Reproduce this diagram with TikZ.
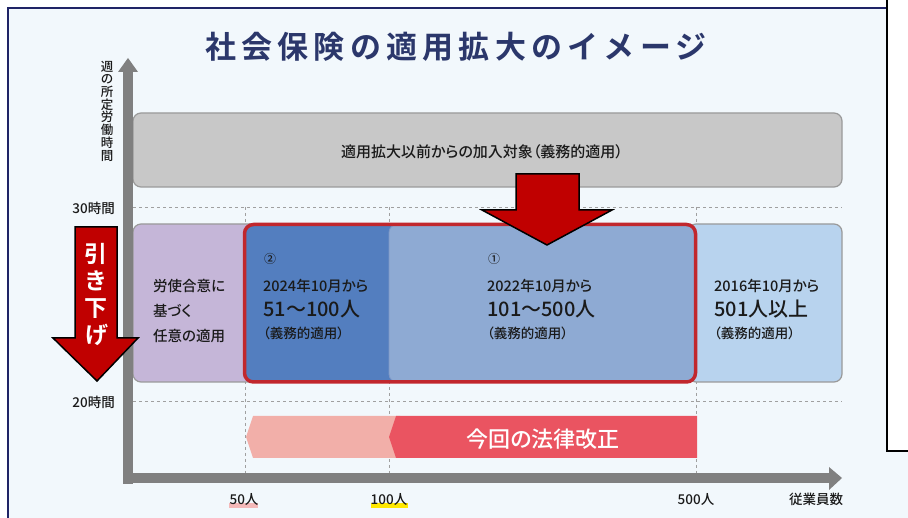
\documentclass[tikz,border=0pt]{standalone}
\usepackage{fontspec}
\setmainfont{Noto Sans CJK JP}[UprightFont={* Medium}, BoldFont={* Bold}, RawFeature=+palt]
\newfontfamily\titlefont{Noto Sans CJK JP Bold}[LetterSpace=17]
\definecolor{bgblue}{HTML}{F2F8FC}
\definecolor{navy}{HTML}{1F2466}
\definecolor{titlec}{HTML}{2B376B}
\definecolor{axisgray}{HTML}{808080}
\definecolor{gridgray}{HTML}{A0A0A0}
\definecolor{grayfill}{HTML}{C8C8C8}
\definecolor{grayline}{HTML}{9A9A9A}
\definecolor{purplefill}{HTML}{C5B6D8}
\definecolor{darkblue}{HTML}{537EBF}
\definecolor{midblue}{HTML}{8EAAD3}
\definecolor{midline}{HTML}{7E98C6}
\definecolor{lightblue}{HTML}{B8D3EE}
\definecolor{redline}{HTML}{C1272D}
\definecolor{arrowred}{HTML}{C00000}
\definecolor{pinkband}{HTML}{F2AFA9}
\definecolor{redband}{HTML}{EA5461}
\definecolor{hlpink}{HTML}{F4B8B8}
\definecolor{hlyellow}{HTML}{FFE800}
\definecolor{txt}{HTML}{1A1A1A}
\tikzset{
  lbl/.style={inner sep=0pt, text=txt},
  leftlbl/.style={lbl, anchor=west},
  gridline/.style={draw=gridgray, dash pattern=on 3pt off 3pt, line width=0.8pt},
  boxshape/.style={rounded corners=8pt, draw=grayline, line width=1.2pt},
  bigarrow/.style={fill=arrowred, draw=black, line width=1.5pt, line join=miter},
  fs/.style={font=\fontsize{#1}{#1}\selectfont}
}
\begin{document}
\begin{tikzpicture}[x=1pt,y=-1pt]
\useasboundingbox (0,0) rectangle (908,518);
\fill[white] (0,0) rectangle (908,518);
\fill[bgblue] (8,8) rectangle (908,518);
\draw[navy, line width=2.5pt] (8,518) -- (8,8) -- (886,8);

% title
\node[inner sep=0pt, text=titlec, font=\titlefont\fontsize{31}{31}\selectfont] (title) at (456,47) {社会保険の適用拡大のイメージ};

% y-axis label
\node[lbl, align=center, font=\fontsize{12.5}{12.7}\selectfont] (ylab) at (107,111) {週\\の\\所\\定\\労\\働\\時\\間};
\node[lbl, anchor=east, fs=13.5] (h30) at (115,208) {30時間};
\node[lbl, anchor=east, fs=13.5] (h20) at (115,402) {20時間};

% grid lines
\draw[gridline] (133,207) -- (842,207);
\draw[gridline] (133,401) -- (842,401);
\draw[gridline] (245,207) -- (245,473);
\draw[gridline] (389,207) -- (389,473);
\draw[gridline] (696,207) -- (696,473);

% gray box
\draw[boxshape, fill=grayfill] (133,113) rectangle (842,187);
\node[lbl, fs=15] (graytxt) at (482,152) {適用拡大以前からの加入対象（義務的適用）};

% tier boxes
\draw[boxshape, fill=purplefill] (133,224) rectangle (258,382);
\draw[boxshape, fill=lightblue] (688,224) rectangle (842,382);
\fill[darkblue, rounded corners=8pt] (244,224) rectangle (400,382);
\draw[fill=midblue, draw=midline, line width=0.8pt, rounded corners=8pt] (389,224.5) rectangle (696,382);
\draw[redline, line width=3.5pt, rounded corners=9pt] (244.5,224.5) rectangle (695.5,382);

% purple text
\node[leftlbl, fs=14.5] (p1) at (153,286) {労使合意に};
\node[leftlbl, fs=14.5] (p2) at (153,311) {基づく};
\node[leftlbl, fs=14.5] (p3) at (153,336) {任意の適用};

% tier 2
\node[leftlbl, fs=12] (c2) at (264,259) {②};
\node[leftlbl, fs=14.5] (d2) at (263,286) {2024年10月から};
\node[leftlbl, fs=20] (n2) at (263,309) {51～100人};
\node[leftlbl, fs=13.5] (o2) at (263,333) {（義務的適用）};
% tier 1
\node[leftlbl, fs=12] (c1) at (488,259) {①};
\node[leftlbl, fs=14.5] (d1) at (487,286) {2022年10月から};
\node[leftlbl, fs=20] (n1) at (487,309) {101～500人};
\node[leftlbl, fs=13.5] (o1) at (487,333) {（義務的適用）};
% tier 0
\node[leftlbl, fs=14.5] (d0) at (714,286) {2016年10月から};
\node[leftlbl, fs=20] (n0) at (714,309) {501人以上};
\node[leftlbl, fs=13.5] (o0) at (714,333) {（義務的適用）};

% law revision bands
\fill[pinkband] (253,416) -- (400,416) -- (400,458) -- (253,458) -- (246,437) -- cycle;
\fill[redband] (396,416) -- (697,416) -- (697,458) -- (396,458) -- (389,437) -- cycle;
\node[inner sep=0pt, text=white, fs=22] (law) at (543,439) {今回の法律改正};

% axes
\coordinate (origin) at (128,478);
\coordinate (ytop) at (128,58);
\coordinate (xend) at (842,478);
\fill[axisgray] (122.7,484) rectangle (133.3,72);
\fill[axisgray] (118,72) -- (ytop) -- (138,72) -- cycle;
\fill[axisgray] (122.7,472.7) rectangle (829,483.3);
\fill[axisgray] (829,467) -- (xend) -- (829,490) -- cycle;

% x labels
\fill[hlpink] (229,503) rectangle (258,508);
\fill[hlyellow] (371,503) rectangle (408,508);
\node[lbl, fs=13.5] (x50) at (244,499) {50人};
\node[lbl, fs=13.5] (x100) at (389,499) {100人};
\node[lbl, fs=13.5] (x500) at (696,499) {500人};
\node[lbl, fs=13.5] (xlab) at (816,499) {従業員数};

% big red arrow
\draw[bigarrow] (516,174) -- (579,174) -- (579,210) -- (612,210) -- (547,245) -- (482,210) -- (516,210) -- cycle;

% left arrow
\draw[bigarrow] (75,227) -- (117,227) -- (117,338) -- (138,338) -- (97,381) -- (53,338) -- (75,338) -- cycle;
\node[inner sep=0pt, text=white, align=center, font=\fontsize{23}{27}\selectfont\bfseries] (down) at (96,295) {引\\き\\下\\げ};

% overlay at right
\fill[white] (887,-2) rectangle (910,451);
\draw[black, line width=2pt] (887,-2) -- (887,451) -- (910,451);
\end{tikzpicture}
\end{document}
